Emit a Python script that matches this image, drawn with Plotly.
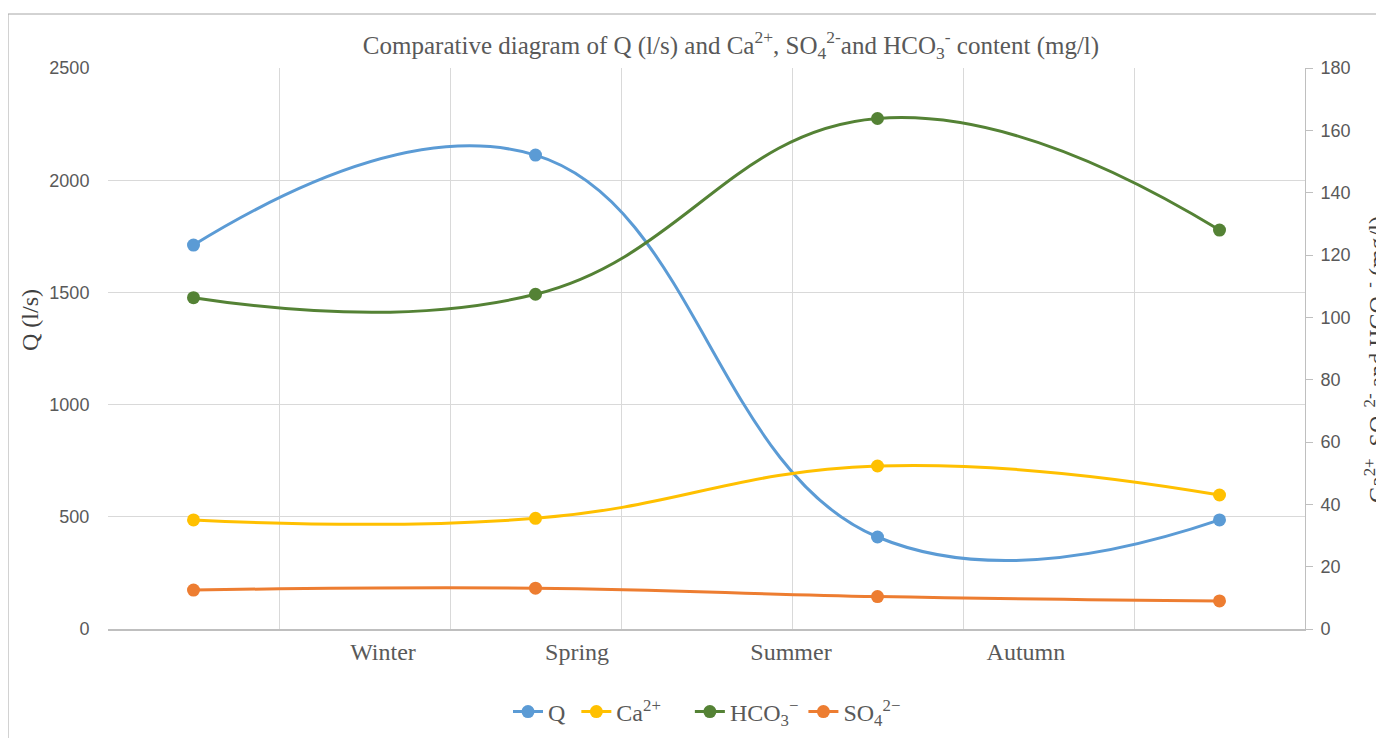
import plotly.graph_objects as go

# ---- data ----
x_pos = [0, 2, 4, 6]
q_values = [1711, 2112, 410, 486]          # Q (l/s), left axis
ca_values = [35.0, 35.5, 52.3, 43.0]       # Ca2+ (mg/l), right axis
hco3_values = [106.3, 107.4, 163.8, 128.0] # HCO3- (mg/l), right axis
so4_values = [12.5, 13.1, 10.4, 9.0]       # SO4 2- (mg/l), right axis

season_labels = ["Winter", "Spring", "Summer", "Autumn"]
season_label_pos = [1.108, 2.243, 3.494, 4.868]
grid_pos = [-0.5, 0.5, 1.5, 2.5, 3.5, 4.5, 5.5, 6.5]

left_ticks = [0, 500, 1000, 1500, 2000, 2500]
right_ticks = [0, 20, 40, 60, 80, 100, 120, 140, 160, 180]

# ---- style ----
TXT = "#595959"
GRID = "#D9D9D9"
SERIF = "Liberation Serif"
SANS = "Liberation Sans"
OFF = 8  # page body offset in the screenshot
SP = "\u00a0"

fig = go.Figure()

def add(name, y, color, axis):
    fig.add_trace(go.Scatter(
        x=x_pos, y=y, name=name, mode="lines+markers",
        line=dict(color=color, width=3, shape="spline", smoothing=1.25),
        marker=dict(color=color, size=13),
        yaxis=axis,
    ))

add("Q" + SP, q_values, "#5B9BD5", "y")
add("Ca<sup>2+</sup>" + SP * 4, ca_values, "#FFC000", "y2")
add("HCO<sub>3</sub><sup>−</sup>", hco3_values, "#548235", "y2")
add("SO<sub>4</sub><sup>2−</sup>" + SP * 2, so4_values, "#ED7D31", "y2")

fig.update_layout(
    width=1384, height=738,
    margin=dict(l=108 - OFF, r=1384 - 1305 + OFF, t=68 - OFF, b=738 - 629 + OFF, autoexpand=False),
    paper_bgcolor="white", plot_bgcolor="white",
    showlegend=True,
    title=dict(
        text="Comparative diagram of Q (l/s) and Ca<sup>2+</sup>, SO<sub>4</sub><sup>2-</sup>and HCO<sub>3</sub><sup>-</sup> content (mg/l)",
        x=(731 - OFF) / 1384, xanchor="center", y=1 - (45 - OFF) / 738, yanchor="middle",
        font=dict(family=SERIF, size=25, color=TXT),
    ),
    xaxis=dict(
        range=[-0.5, 6.5],
        tickvals=season_label_pos, ticktext=season_labels,
        showgrid=False, zeroline=False,
        ticks="",
        tickfont=dict(family=SERIF, size=24, color=TXT),
        showline=True, linecolor="#BFBFBF", linewidth=2,
        minor=dict(tickvals=grid_pos, showgrid=True, gridcolor=GRID, gridwidth=1, ticks=""),
        fixedrange=True,
    ),
    yaxis=dict(
        range=[0, 2500], tickvals=left_ticks,
        showgrid=True, gridcolor=GRID, gridwidth=1, zeroline=False,
        ticks="outside", ticklen=14, tickcolor="rgba(0,0,0,0)",
        tickfont=dict(family=SANS, size=18, color=TXT),
        showline=False,
    ),
    yaxis2=dict(
        range=[0, 180], tickvals=right_ticks, overlaying="y", side="right",
        showgrid=False, zeroline=False,
        ticks="outside", ticklen=7, tickcolor="#BFBFBF",
        ticklabelstandoff=4,
        tickfont=dict(family=SANS, size=18, color=TXT),
        showline=True, linecolor="#BFBFBF", linewidth=1,
    ),
    legend=dict(
        orientation="h", x=(713 - 108) / 1197, xanchor="center",
        yref="container", y=1 - (712 - OFF) / 738, yanchor="middle",
        font=dict(family=SERIF, size=24, color=TXT),
        traceorder="normal",
    ),
    annotations=[
        dict(text="Q (l/s)", textangle=-90, xref="paper", yref="paper",
             x=(30 - 108) / 1197, y=(629 - 320) / 561, xanchor="center", yanchor="middle",
             showarrow=False, font=dict(family=SERIF, size=24, color="#404040")),
        dict(text="Ca<sup>2+</sup>, SO<sub>4</sub><sup>2-</sup> and HCO<sub>3</sub><sup>-</sup> (mg/l)",
             textangle=-90, xref="paper", yref="paper",
             x=(1377 - 108) / 1197, y=(629 - 360) / 561, xanchor="center", yanchor="middle",
             showarrow=False, font=dict(family=SERIF, size=24, color="#404040")),
    ],
    shapes=[
        dict(type="rect", xref="paper", yref="paper",
             x0=(8 - 108) / 1197, x1=1.2, y0=-0.4, y1=(629 - 14) / 561,
             line=dict(color="#A6A6A6", width=1), fillcolor="rgba(0,0,0,0)", layer="below"),
    ],
)

fig.write_html("out.html")
